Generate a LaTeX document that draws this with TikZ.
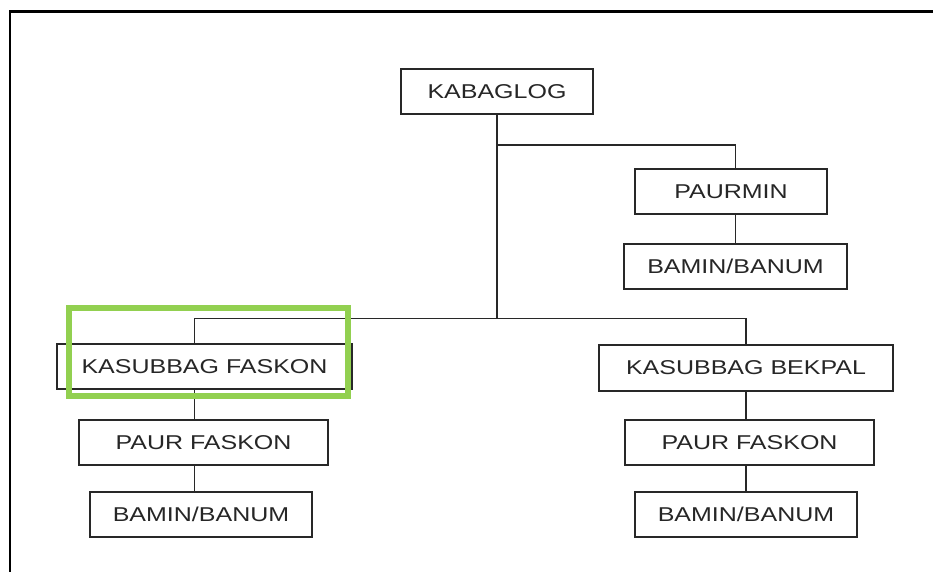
\documentclass[tikz,border=0pt]{standalone}
\usepackage{fontspec}
\setmainfont[FakeStretch=1.25]{Liberation Sans}
\usepackage{tikz}
\usetikzlibrary{positioning}
\definecolor{boxline}{RGB}{40,40,40}
\definecolor{marker}{RGB}{146,208,80}

\begin{document}
\begin{tikzpicture}[x=1pt, y=1pt, line width=1.6pt,
    unit/.style={draw=boxline, rectangle, inner sep=0pt, minimum height=45pt,
      font=\fontsize{20}{24}\selectfont, text=black!85},
    link/.style={draw=boxline, line width=1.6pt}]

   \useasboundingbox (0,0) rectangle (933,572);
   % frame on top and left
   \draw[line width=2.8pt] (933,560.7) -- (10,560.7) -- (10,0);

   % Define the units
   \node[unit, minimum width=192pt] (kabaglog) at (497,480.5) {KABAGLOG};
   \node[unit, minimum width=192pt] (paurmin) at (731,380.5) {PAURMIN};
   \node[unit, minimum width=223pt] (bamin_top) at (735.5,305.5) {BAMIN/BANUM};
   \node[unit, minimum width=295pt] (kasubbag_faskon) at (204.5,205.5) {KASUBBAG FASKON};
   \node[unit, minimum width=294pt, minimum height=46pt] (kasubbag_bekpal) at (746,204) {KASUBBAG BEKPAL};
   \node[unit, minimum width=249pt] (paur_faskon_left) at (203.5,129.5) {PAUR FASKON};
   \node[unit, minimum width=222pt] (bamin_left) at (201,57.5) {BAMIN/BANUM};
   \node[unit, minimum width=249pt] (paur_faskon_right) at (749.5,129.5) {PAUR FASKON};
   \node[unit, minimum width=222pt] (bamin_right) at (746,57.5) {BAMIN/BANUM};

   % Define the branch points
   \coordinate (split) at (497,427);
   \coordinate (bus) at (497,253.5);
   \coordinate (bus_left) at (194.5,253.5);
   \coordinate (bus_right) at (746,253.5);

   % Define connectors
   \path[link]
    (kabaglog) -- (bus)
    (split) -| (paurmin.north -| bamin_top.north)
    (paurmin.south -| bamin_top.north) -- (bamin_top.north)
    (bus_left) -- (bus_right)
    (bus_left) -- (bus_left |- kasubbag_faskon.north)
    (bus_left |- kasubbag_faskon.south) -- (bus_left |- paur_faskon_left.north)
    (bus_left |- paur_faskon_left.south) -- (bus_left |- bamin_left.north)
    (bus_right) -- (kasubbag_bekpal.north)
    (kasubbag_bekpal.south) -- (kasubbag_bekpal.south |- paur_faskon_right.north)
    (kasubbag_bekpal.south |- paur_faskon_right.south) -- (bamin_right.north);

   % highlight
   \draw[marker, line width=6pt] (69,263.5) rectangle (348,176);

\end{tikzpicture}
\end{document}
